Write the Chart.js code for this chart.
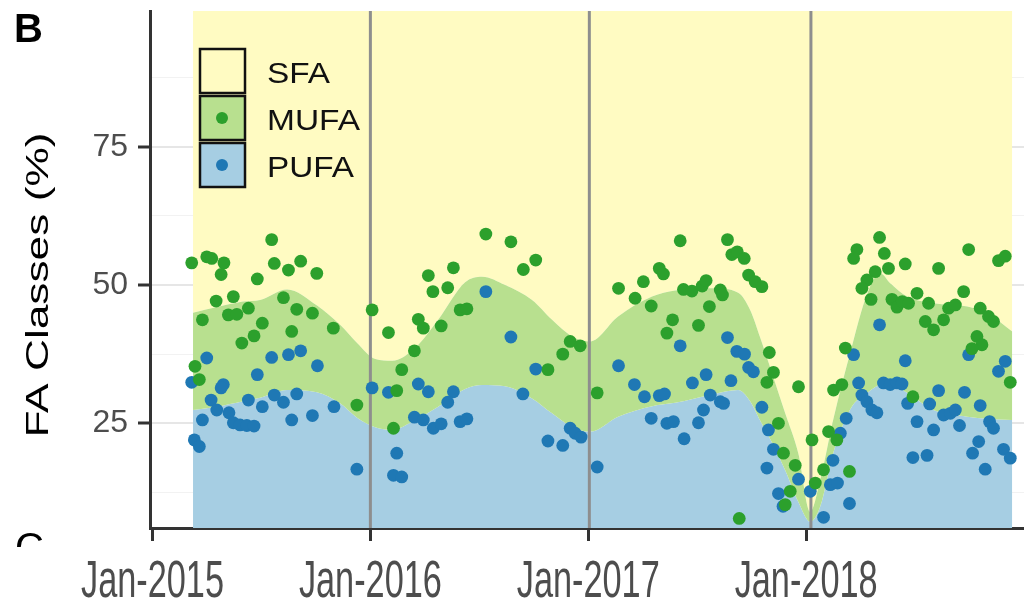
<!DOCTYPE html>
<html>
<head>
<meta charset="utf-8">
<script src="https://cdn.jsdelivr.net/npm/chart.js@4.4.1/dist/chart.umd.min.js"></script>
<style>
  html, body { margin: 0; padding: 0; background: #fff; }
  #wrap { width: 1024px; height: 602px; position: relative; }
</style>
</head>
<body>
<div id="wrap"><canvas id="faChart"></canvas></div>
<script>
// smoothed class areas, sampled at decimal years
var areaDates = [2015.186, 2015.296, 2015.416, 2015.494, 2015.618, 2015.755, 2015.861, 2015.939,
    2016.022, 2016.100, 2016.205, 2016.311, 2016.435, 2016.513, 2016.618, 2016.742, 2016.834, 2016.926,
    2017.009, 2017.137, 2017.293, 2017.399, 2017.569, 2017.688, 2017.743, 2017.789, 2017.844, 2017.904, 2017.964,
    2018.019, 2018.065, 2018.124, 2018.202, 2018.281, 2018.340, 2018.386, 2018.464, 2018.584, 2018.740, 2018.832, 2018.946];
// PUFA share (%)
var pufaTop = [27.4, 28.0, 29.0, 29.6, 31.0, 30.6, 28.6, 26.0,
    24.3, 23.8, 25.6, 28.0, 31.2, 31.9, 31.7, 29.5, 26.8, 24.3,
    23.5, 26.2, 28.1, 28.7, 30.2, 31.0, 29.0, 25.5, 21.5, 16.5, 10.8,
    7.2, 10.0, 19.6, 27.5, 30.5, 32.0, 32.3, 30.5, 27.4, 26.2, 25.8, 25.6];
// PUFA + MUFA (%), SFA fills the rest up to 100
var mufaTop = [45.0, 46.0, 47.0, 47.3, 49.2, 46.3, 42.8, 39.5,
    36.6, 36.3, 38.6, 43.7, 50.5, 51.5, 50.0, 47.3, 43.7, 40.7,
    39.8, 44.3, 47.9, 49.0, 49.4, 48.6, 45.5, 40.5, 34.0, 26.8, 19.6,
    9.0, 14.8, 25.6, 37.7, 48.5, 52.1, 50.3, 47.9, 46.7, 46.1, 44.9, 41.6];

// sample points
var mufaDates = [2015.180, 2015.249, 2015.272, 2015.328, 2015.315, 2015.547, 2015.559, 2015.624, 2015.680, 2015.754,
    2015.481, 2015.292, 2015.371, 2015.348, 2015.387, 2015.440, 2015.229, 2015.504, 2015.466, 2015.410,
    2015.601, 2015.662, 2015.734, 2015.639, 2015.830, 2015.195, 2015.215, 2015.938, 2016.008,
    2016.530, 2016.645, 2016.759, 2016.702, 2016.266, 2016.381, 2016.287, 2016.355, 2016.083, 2016.220,
    2016.243, 2016.325, 2016.412, 2016.443, 2016.202, 2016.144, 2016.121, 2016.106, 2016.815, 2016.883,
    2016.917, 2016.963, 2017.041,
    2017.422, 2017.639, 2017.659, 2017.684, 2017.716, 2017.736, 2017.766, 2017.797, 2017.326, 2017.345,
    2017.253, 2017.139, 2017.215, 2017.289, 2017.437, 2017.476, 2017.523, 2017.541, 2017.606, 2017.616,
    2017.556, 2017.387, 2017.361, 2017.506, 2017.831, 2017.850, 2017.820, 2017.965, 2017.873, 2017.896,
    2017.950, 2017.927, 2017.904, 2017.693, 2018.027,
    2018.337, 2018.233, 2018.218, 2018.359, 2018.378, 2018.317, 2018.279, 2018.256, 2018.298, 2018.455,
    2018.608, 2018.746, 2018.883, 2018.914, 2018.394, 2018.417, 2018.441, 2018.470, 2018.509, 2018.562,
    2018.547, 2018.585, 2018.631, 2018.654, 2018.685, 2018.723, 2018.799, 2018.837, 2018.860, 2018.784,
    2018.807, 2018.761, 2018.937, 2018.180, 2018.126, 2018.164, 2018.490, 2018.103, 2018.141, 2018.199,
    2018.080, 2018.042];
var mufaValues = [54.0, 55.1, 54.8, 54.0, 51.9, 58.2, 53.9, 52.7, 54.3, 52.1,
    51.1, 47.1, 47.9, 44.6, 44.7, 45.8, 43.7, 43.1, 40.8, 39.5,
    47.7, 45.6, 44.9, 41.6, 42.2, 35.3, 32.9, 28.3, 45.5,
    59.2, 57.8, 54.5, 52.8, 51.7, 53.1, 48.8, 49.5, 41.4, 43.8,
    42.2, 42.6, 45.5, 45.7, 38.1, 34.7, 30.9, 24.1, 34.7, 37.5,
    39.8, 39.0, 30.5,
    58.0, 58.2, 55.5, 56.0, 54.8, 51.8, 50.6, 49.7, 53.0, 52.0,
    50.6, 49.4, 47.6, 46.2, 49.2, 48.9, 49.8, 50.8, 49.1, 48.2,
    46.1, 43.7, 41.3, 42.7, 37.8, 34.2, 32.4, 31.6, 25.0, 19.6,
    17.4, 12.7, 10.3, 7.8, 22.0,
    58.6, 56.4, 54.8, 55.7, 53.0, 52.4, 50.9, 49.4, 47.4, 53.8,
    53.0, 56.4, 54.4, 55.2, 47.4, 46.0, 47.0, 46.7, 48.5, 46.7,
    43.4, 41.9, 43.7, 45.8, 46.4, 48.8, 45.8, 44.3, 43.4, 40.7,
    39.2, 38.5, 32.4, 38.6, 31.0, 32.0, 29.8, 23.5, 22.0, 16.3,
    16.6, 14.2];

var pufaDates = [2015.249, 2015.180, 2015.325, 2015.315, 2015.481, 2015.547, 2015.624, 2015.680, 2015.757, 2015.269,
    2015.295, 2015.351, 2015.371, 2015.402, 2015.433, 2015.466, 2015.229, 2015.440, 2015.504, 2015.559,
    2015.601, 2015.662, 2015.639, 2015.734, 2015.833, 2015.192, 2015.215, 2015.938, 2016.008,
    2016.530, 2016.645, 2016.759, 2016.083, 2016.220, 2016.266, 2016.381, 2016.355, 2016.202, 2016.243,
    2016.289, 2016.325, 2016.412, 2016.443, 2016.700, 2016.121, 2016.106, 2016.144, 2016.815, 2016.883,
    2016.917, 2016.940, 2016.967, 2017.041,
    2017.422, 2017.639, 2017.682, 2017.717, 2017.736, 2017.758, 2017.655, 2017.541, 2017.478, 2017.139,
    2017.212, 2017.258, 2017.326, 2017.350, 2017.289, 2017.361, 2017.391, 2017.440, 2017.506, 2017.529,
    2017.560, 2017.606, 2017.621, 2017.797, 2017.827, 2017.850, 2017.820, 2017.873, 2017.894, 2017.965,
    2018.019,
    2018.337, 2018.218, 2018.455, 2018.241, 2018.355, 2018.386, 2018.417, 2018.440, 2018.256, 2018.279,
    2018.302, 2018.325, 2018.466, 2018.608, 2018.567, 2018.509, 2018.585, 2018.631, 2018.662, 2018.685,
    2018.704, 2018.727, 2018.746, 2018.799, 2018.842, 2018.860, 2018.883, 2018.914, 2018.792, 2018.764,
    2018.822, 2018.906, 2018.937, 2018.490, 2018.555, 2018.184, 2018.157, 2018.123, 2018.111, 2018.144,
    2018.199, 2018.080];
var pufaValues = [36.8, 32.4, 32.0, 31.4, 33.8, 36.9, 37.4, 38.1, 35.4, 29.2,
    27.4, 26.9, 25.1, 24.7, 24.6, 24.5, 25.6, 29.2, 28.0, 30.1,
    28.8, 30.3, 25.6, 26.4, 28.0, 22.0, 20.8, 16.7, 31.4,
    48.8, 40.6, 34.8, 30.6, 32.1, 30.7, 30.7, 28.8, 26.1, 25.6,
    24.1, 24.9, 25.3, 25.8, 30.3, 19.6, 15.6, 15.3, 21.8, 21.0,
    24.1, 23.2, 22.5, 17.1,
    39.0, 40.5, 38.0, 37.5, 35.1, 34.3, 32.7, 33.8, 32.3, 35.4,
    32.0, 29.8, 30.0, 30.3, 25.9, 25.0, 25.3, 22.2, 25.1, 27.4,
    30.1, 28.9, 28.6, 27.9, 23.8, 20.3, 16.9, 12.3, 10.0, 14.9,
    12.7,
    42.8, 37.4, 36.3, 32.3, 32.3, 32.0, 32.3, 32.1, 30.1, 28.9,
    27.4, 26.9, 28.6, 30.9, 28.5, 25.3, 23.8, 26.5, 26.8, 27.4,
    24.6, 30.6, 37.4, 28.2, 25.3, 24.1, 34.4, 36.2, 21.7, 19.6,
    16.7, 20.3, 18.7, 18.8, 19.2, 25.9, 23.2, 18.3, 13.9, 14.2,
    10.5, 8.0];

var xTickYears = [2015, 2016, 2017, 2018];
var yearLines = [2016.0, 2017.005, 2018.022];
var yMajorTicks = [25, 50, 75];
var yMinorTicks = [12.5, 37.5, 62.5, 87.5];
var classNames = ['SFA', 'MUFA', 'PUFA'];

var sfaColor = '#fffbc2';
var mufaAreaColor = '#b8e08f';
var pufaAreaColor = '#a6cee3';
var mufaPointColor = '#2ca02c';
var pufaPointColor = '#1f78b4';
var fontFamily = '"Liberation Sans", Arial, sans-serif';

function toXY(xs, ys) {
    return xs.map(function(x, i) {
        return { x: x, y: ys[i] };
    });
}

function isMajor(v) {
    return yMajorTicks.indexOf(v) >= 0;
}

// text squeezed / stretched to the width measured on the figure
function fitText(ctx, text, x, y, size, width, align, color) {
    ctx.save();
    ctx.font = size + 'px ' + fontFamily;
    var k = width / ctx.measureText(text).width;
    ctx.translate(x, y);
    ctx.scale(k, 1);
    ctx.textAlign = align;
    ctx.textBaseline = 'alphabetic';
    ctx.fillStyle = color;
    ctx.fillText(text, 0, 0);
    ctx.restore();
}

var decorations = {
    id: 'decorations',
    afterDraw: function(chart) {
        var ctx = chart.ctx;
        var xs = chart.scales.x;

        // panel letters
        ctx.save();
        ctx.font = 'bold 40px ' + fontFamily;
        ctx.fillStyle = '#000';
        ctx.textBaseline = 'alphabetic';
        ctx.fillText('B', 14, 42);
        ctx.beginPath();
        ctx.rect(0, 529, 70, 18);
        ctx.clip();
        ctx.font = '40px ' + fontFamily;
        ctx.fillText('C', 15, 561);
        ctx.restore();

        // x tick labels
        xTickYears.forEach(function(yr) {
            fitText(ctx, 'Jan-' + yr, xs.getPixelForValue(yr), 597, 51, 143, 'center', '#4d4d4d');
        });

        // y title
        ctx.save();
        ctx.translate(48, 285);
        ctx.rotate(-Math.PI / 2);
        fitText(ctx, 'FA Classes (%)', 0, 0, 32, 305, 'center', '#000');
        ctx.restore();

        // legend
        var fills = [sfaColor, mufaAreaColor, pufaAreaColor];
        var dots = [null, mufaPointColor, pufaPointColor];
        var tops = [49, 96, 143];
        var widths = [63, 93, 87];
        classNames.forEach(function(name, i) {
            ctx.save();
            ctx.fillStyle = fills[i];
            ctx.fillRect(200, tops[i], 45, 44);
            ctx.strokeStyle = '#111';
            ctx.lineWidth = 2.5;
            ctx.strokeRect(200, tops[i], 45, 44);
            if (dots[i]) {
                ctx.beginPath();
                ctx.arc(222, tops[i] + 22, 6, 0, Math.PI * 2);
                ctx.fillStyle = dots[i];
                ctx.fill();
            }
            ctx.restore();
            fitText(ctx, name, 267, tops[i] + 34, 29, widths[i], 'left', '#111');
        });
    }
};

var datasets = [{
    type: 'scatter',
    label: 'MUFA',
    data: toXY(mufaDates, mufaValues),
    backgroundColor: mufaPointColor,
    borderWidth: 0,
    pointRadius: 6.4,
    order: 0
}, {
    type: 'scatter',
    label: 'PUFA',
    data: toXY(pufaDates, pufaValues),
    backgroundColor: pufaPointColor,
    borderWidth: 0,
    pointRadius: 6.4,
    order: 1
}];

yearLines.forEach(function(d) {
    datasets.push({
        type: 'line',
        data: [{ x: d, y: 0 }, { x: d, y: 100 }],
        borderColor: '#8e8e8e',
        borderWidth: 3,
        pointRadius: 0,
        fill: false,
        order: 2
    });
});

var pufaAreaIndex = datasets.length;
datasets.push({
    type: 'line',
    label: 'PUFA area',
    data: toXY(areaDates, pufaTop),
    fill: 'start',
    backgroundColor: pufaAreaColor,
    borderWidth: 0,
    pointRadius: 0,
    cubicInterpolationMode: 'monotone',
    order: 5
}, {
    type: 'line',
    label: 'MUFA area',
    data: toXY(areaDates, mufaTop),
    fill: { target: pufaAreaIndex },
    backgroundColor: mufaAreaColor,
    borderWidth: 0,
    pointRadius: 0,
    cubicInterpolationMode: 'monotone',
    order: 4
}, {
    type: 'line',
    label: 'SFA area',
    data: toXY(areaDates, mufaTop),
    fill: 'end',
    backgroundColor: sfaColor,
    borderWidth: 0,
    pointRadius: 0,
    cubicInterpolationMode: 'monotone',
    order: 4
});

Chart.defaults.font.family = fontFamily;

var chart = new Chart(document.getElementById('faChart'), {
    type: 'scatter',
    data: { datasets: datasets },
    options: {
        responsive: true,
        maintainAspectRatio: false,
        devicePixelRatio: 1,
        animation: false,
        events: [],
        layout: {
            autoPadding: false,
            padding: { top: 11, left: 0, right: 0, bottom: 0 }
        },
        plugins: {
            legend: { display: false },
            tooltip: { enabled: false }
        },
        scales: {
            x: {
                type: 'linear',
                min: 2014.9885,
                max: 2019.0,
                afterBuildTicks: function(scale) {
                    scale.ticks = xTickYears.map(function(v) { return { value: v }; });
                },
                ticks: {
                    autoSkip: false,
                    maxRotation: 0,
                    callback: function() { return ''; }
                },
                grid: {
                    drawOnChartArea: false,
                    tickLength: 13,
                    tickColor: '#333',
                    tickWidth: 3
                },
                border: { display: true, color: '#333', width: 3 },
                afterFit: function(scale) {
                    scale.height = 74;
                    scale.paddingLeft = 0;
                    scale.paddingRight = 0;
                }
            },
            y: {
                type: 'linear',
                min: 6.07,
                max: 99.53,
                afterBuildTicks: function(scale) {
                    scale.ticks = yMinorTicks.concat(yMajorTicks)
                        .sort(function(a, b) { return a - b; })
                        .map(function(v) { return { value: v }; });
                },
                ticks: {
                    autoSkip: false,
                    padding: 10,
                    color: '#4d4d4d',
                    font: { size: 32 },
                    callback: function(v) { return isMajor(v) ? String(v) : ''; }
                },
                grid: {
                    color: function(c) { return isMajor(c.tick.value) ? '#e6e6e6' : '#f2f2f2'; },
                    lineWidth: function(c) { return isMajor(c.tick.value) ? 2 : 1; },
                    tickColor: function(c) { return isMajor(c.tick.value) ? '#333' : 'rgba(0,0,0,0)'; },
                    tickLength: 12,
                    tickWidth: 3
                },
                border: { display: true, color: '#333', width: 3 },
                afterFit: function(scale) {
                    scale.width = 150;
                    scale.paddingTop = 0;
                    scale.paddingBottom = 0;
                }
            }
        }
    },
    plugins: [decorations]
});
</script>
</body>
</html>
